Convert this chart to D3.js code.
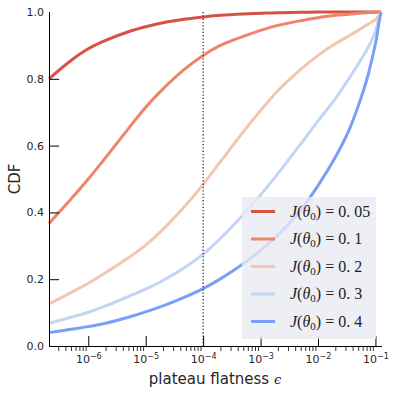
<!DOCTYPE html>
<html><head><meta charset="utf-8">
<script src="https://cdn.jsdelivr.net/npm/d3@7"></script>
<style>body{margin:0;background:#fff}svg{display:block}</style>
</head><body>
<svg id="c" width="394" height="396"></svg>
<script>
const eps = [2.07e-7,5e-7,1e-6,2e-6,5e-6,1e-5,2e-5,5e-5,1e-4,2e-4,5e-4,1e-3,2e-3,5e-3,1e-2,2e-2,3.5e-2,5e-2,7e-2,0.1,0.11,0.12,0.125];
const cdf005 = [0.80,0.855,0.890,0.915,0.941,0.956,0.968,0.979,0.985,0.990,0.994,0.996,0.998,0.999,1,1,1,1,1,1,1,1,1];
const cdf01  = [0.367,0.440,0.500,0.564,0.651,0.715,0.770,0.832,0.870,0.900,0.927,0.945,0.960,0.974,0.983,0.990,0.993,0.996,0.998,0.999,0.9995,1,1];
const cdf02  = [0.126,0.160,0.188,0.219,0.264,0.302,0.349,0.422,0.484,0.552,0.641,0.705,0.764,0.828,0.870,0.905,0.929,0.945,0.961,0.977,0.985,0.995,1];
const cdf03  = [0.068,0.086,0.101,0.120,0.148,0.170,0.196,0.237,0.275,0.322,0.393,0.452,0.516,0.605,0.674,0.740,0.802,0.844,0.885,0.942,0.968,0.990,1];
const cdf04  = [0.040,0.050,0.058,0.068,0.086,0.102,0.120,0.148,0.172,0.201,0.246,0.286,0.332,0.407,0.480,0.565,0.648,0.718,0.795,0.905,0.945,0.985,1];
const jValues = ["0. 05","0. 1","0. 2","0. 3","0. 4"];
const colors = ["#d65244","#ee8468","#f2c6b0","#c3d5f4","#7b9ff9"];
const yTicks = [0,0.2,0.4,0.6,0.8,1.0];
const xMajor = [1e-6,1e-5,1e-4,1e-3,1e-2,1e-1];
const xExp = ["-6","-5","-4","-3","-2","-1"];
const vLine = 1e-4;

const series = [cdf005,cdf01,cdf02,cdf03,cdf04];
const svg = d3.select("#c");
const x = d3.scaleLog().domain([2.07e-7,0.125]).range([49,381]);
const y = d3.scaleLinear().domain([0,1]).range([346,12]);
const txt = "#262626";

// curves
const line = d3.line().x((d,i)=>x(eps[i])).y(d=>y(d)).curve(d3.curveCatmullRom.alpha(0.5));
series.forEach((s,k)=>{
  svg.append("path").datum(s).attr("d",line).attr("fill","none")
    .attr("stroke",colors[k]).attr("stroke-width",3).attr("stroke-linecap","butt");
});

// dotted line
svg.append("line").attr("x1",x(vLine)).attr("x2",x(vLine)).attr("y1",y(1)).attr("y2",y(0))
  .attr("stroke","#333").attr("stroke-width",1.3).attr("stroke-dasharray","1.3,2");

// minor x ticks
const minors = [];
for (let e=-7;e<=-1;e++) for (let m=2;m<=9;m++){const v=m*Math.pow(10,e); if(v>=x.domain()[0]&&v<=x.domain()[1]) minors.push(v);}
const gMin = svg.append("g").attr("transform","translate(0,346)")
  .call(d3.axisBottom(x).tickValues(minors).tickSizeInner(5).tickSizeOuter(0).tickFormat(""));
gMin.select(".domain").remove();
gMin.selectAll("line").attr("stroke","#000").attr("stroke-width",0.8);

// major x ticks
const gX = svg.append("g").attr("transform","translate(0,346)")
  .call(d3.axisBottom(x).tickValues(xMajor).tickSizeInner(-10).tickSizeOuter(0).tickFormat(""));
gX.select(".domain").attr("d","M49,0.5H382").attr("stroke","#000");
gX.selectAll(".tick line").attr("stroke","#000");
gX.selectAll(".tick text").remove();
gX.selectAll(".tick").each(function(d,i){
  const t = d3.select(this).append("text").attr("y",17).attr("text-anchor","middle")
    .attr("font-family","DejaVu Sans").attr("font-size",11).attr("fill",txt);
  t.append("tspan").text("10");
  t.append("tspan").attr("dy",-4).attr("font-size",8).text(xExp[i].replace("-","\u2212"));
});

// y axis
const gY = svg.append("g").attr("transform","translate(49,0)")
  .call(d3.axisLeft(y).tickValues(yTicks).tickSizeInner(-10).tickSizeOuter(0).tickPadding(5).tickFormat(d3.format(".1f")));
gY.select(".domain").attr("d","M0.5,12V346").attr("stroke","#000");
gY.selectAll(".tick line").attr("stroke","#000").attr("opacity",d=>(d===0||d===1)?0:1);
gY.selectAll(".tick text").attr("font-family","DejaVu Sans").attr("font-size",11).attr("fill",txt);

// axis labels
const xl = svg.append("text").attr("x",215).attr("y",384).attr("text-anchor","middle")
  .attr("font-family","DejaVu Sans").attr("font-size",15).attr("fill",txt);
xl.append("tspan").text("plateau flatness ");
xl.append("tspan").attr("font-family","DejaVu Serif").attr("font-style","italic").attr("font-size",13).text("\u03f5");
svg.append("text").attr("transform","translate(20,179) rotate(-90)").attr("text-anchor","middle")
  .attr("font-family","DejaVu Sans").attr("font-size",15).attr("fill",txt).text("CDF");

// legend
const lg = svg.append("g");
lg.append("rect").attr("x",242).attr("y",197).attr("width",134).attr("height",142)
  .attr("fill","#eaeaf2").attr("opacity",0.8);
const ly = d3.scaleLinear().domain([0,4]).range([211.5,321.5]);
jValues.forEach((v,k)=>{
  const yy = ly(k);
  lg.append("line").attr("x1",251).attr("x2",275).attr("y1",yy).attr("y2",yy)
    .attr("stroke",colors[k]).attr("stroke-width",3);
  const t = lg.append("text").attr("x",290).attr("y",yy+5).attr("font-family","Liberation Serif")
    .attr("font-size",16).attr("fill","#222");
  t.append("tspan").attr("font-style","italic").text("J");
  t.append("tspan").text("(");
  t.append("tspan").attr("font-style","italic").text("\u03b8");
  t.append("tspan").attr("font-size",11).attr("dy",3).text("0");
  t.append("tspan").attr("dy",-3).text(")");
  t.append("tspan").text(" = ");
  t.append("tspan").text(v);
});
</script>
</body></html>
